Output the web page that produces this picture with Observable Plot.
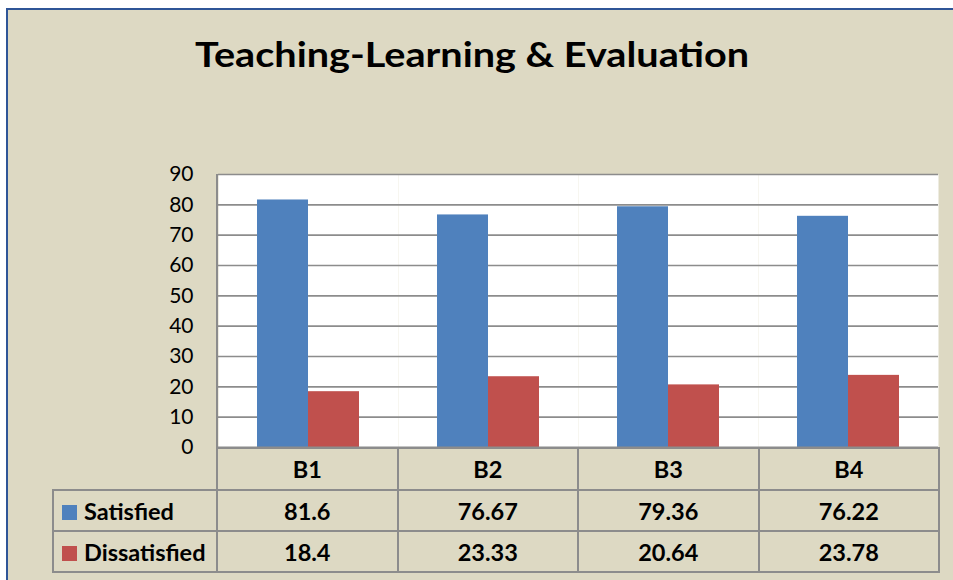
<!DOCTYPE html>
<html>
<head>
<meta charset="utf-8">
<script src="https://cdn.jsdelivr.net/npm/d3@7"></script>
<script src="https://cdn.jsdelivr.net/npm/@observablehq/plot@0.6"></script>
<style>
  html, body { margin: 0; padding: 0; background: #ffffff; }
  body { width: 953px; height: 580px; position: relative; overflow: hidden; font-family: Lato, "Open Sans", sans-serif; }
  #frame { position: absolute; left: 6px; top: 8px; width: 960px; height: 580px; background: #DDD9C3;
           border-left: 2px solid #2F5597; border-top: 2px solid #2F5597; box-sizing: border-box; }
  #title { position: absolute; left: 0; top: 37px; width: 944px; text-align: center; font-weight: 700;
           font-size: 34px; line-height: 1; color: #000; transform: scaleX(1.165); transform-origin: 472px 0; }
  #chart { position: absolute; left: 0; top: 0; }
  #vline { position: absolute; left: 216px; top: 174px; width: 2px; height: 274px; background: #8C8C8C; }
  #tbl { position: absolute; left: 52px; top: 447px; border-collapse: collapse; table-layout: fixed; }
  #tbl td { border: 2px solid #8C8C8C; font-weight: 700; font-size: 23.5px; text-align: center; color: #000;
            padding: 0; height: 39px; box-sizing: border-box; white-space: nowrap; }
  #tbl td.blank { border: none; }
  #tbl td.lab { text-align: left; padding-left: 8px; }
  .sw { display: inline-block; width: 15px; height: 15px; margin-right: 7px; vertical-align: 0px; }
</style>
</head>
<body>
<div id="frame"></div>
<div id="title"></div>
<div id="chart"></div>
<div id="vline"></div>
<table id="tbl"></table>
<script>
const titleText = "Teaching-Learning & Evaluation";
const categories = ["B1", "B2", "B3", "B4"];
const series = ["Satisfied", "Dissatisfied"];
const satisfied = [81.6, 76.67, 79.36, 76.22];
const dissatisfied = [18.4, 23.33, 20.64, 23.78];
const satisfiedLabels = ["81.6", "76.67", "79.36", "76.22"];
const dissatisfiedLabels = ["18.4", "23.33", "20.64", "23.78"];
const yTicks = [0, 10, 20, 30, 40, 50, 60, 70, 80, 90];
const colors = ["#4F81BD", "#C0504D"];

document.getElementById("title").textContent = titleText;

const data = [];
categories.forEach((c, i) => {
  data.push({cat: c, series: series[0], value: satisfied[i]});
  data.push({cat: c, series: series[1], value: dissatisfied[i]});
});

const chart = Plot.plot({
  width: 953,
  height: 449,
  marginTop: 174,
  marginLeft: 217,
  marginRight: 15,
  marginBottom: 2,
  style: {background: "transparent", fontFamily: "Lato, 'Open Sans', sans-serif", fontSize: "21px", color: "#000", overflow: "visible"},
  fx: {domain: categories, padding: 0, axis: null, label: null},
  x: {domain: series, paddingInner: 0, paddingOuter: 0.75, axis: null},
  y: {domain: [0, 90], ticks: yTicks, tickSize: 0, tickPadding: 25, label: null, tickFormat: d => String(d)},
  color: {domain: series, range: colors},
  marks: [
    Plot.frame({fill: "white", stroke: null}),
    Plot.ruleY(yTicks.slice(1), {stroke: "#8C8C8C", strokeWidth: 1.6}),
    Plot.barY(data, {fx: "cat", x: "series", y: "value", fill: "series"}),
    Plot.ruleY([0], {stroke: "#8C8C8C", strokeWidth: 2})
  ]
});
document.getElementById("chart").appendChild(chart);

// data table below the chart
const tbl = document.getElementById("tbl");
const colgroup = document.createElement("colgroup");
[164, 180.5, 180.5, 180.5, 180.5].forEach(w => {
  const col = document.createElement("col");
  col.style.width = w + "px";
  colgroup.appendChild(col);
});
tbl.appendChild(colgroup);

const head = document.createElement("tr");
const blank = document.createElement("td");
blank.className = "blank";
head.appendChild(blank);
categories.forEach(c => {
  const td = document.createElement("td");
  td.textContent = c;
  head.appendChild(td);
});
head.style.height = "42px";
tbl.appendChild(head);

[[series[0], satisfiedLabels, colors[0]], [series[1], dissatisfiedLabels, colors[1]]].forEach(([name, vals, col]) => {
  const tr = document.createElement("tr");
  tr.style.height = "41px";
  const lab = document.createElement("td");
  lab.className = "lab";
  const sw = document.createElement("span");
  sw.className = "sw";
  sw.style.background = col;
  lab.appendChild(sw);
  lab.appendChild(document.createTextNode(name));
  tr.appendChild(lab);
  vals.forEach(v => {
    const td = document.createElement("td");
    td.textContent = v;
    tr.appendChild(td);
  });
  tbl.appendChild(tr);
});
</script>
</body>
</html>
